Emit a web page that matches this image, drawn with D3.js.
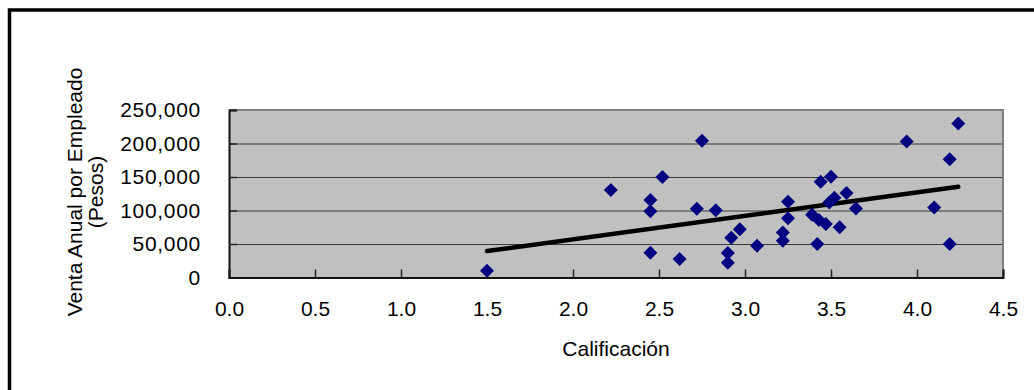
<!DOCTYPE html>
<html>
<head>
<meta charset="utf-8">
<script src="https://cdn.jsdelivr.net/npm/d3@7"></script>
<style>
  body { margin: 0; background: #fff; }
  text { font-family: "Liberation Sans", Arial, sans-serif; fill: #000; }
</style>
</head>
<body>
<div id="chart"></div>
<script>
// Calificación (x) y venta anual por empleado (y)
const calificacion = [1.5, 2.22, 2.45, 2.45, 2.45, 2.52, 2.62, 2.72, 2.75, 2.83, 2.9, 2.9, 2.92, 2.97, 3.07,
    3.22, 3.22, 3.25, 3.25, 3.39, 3.42, 3.43, 3.44, 3.47, 3.49, 3.5, 3.52, 3.55, 3.59, 3.645,
    3.94, 4.1, 4.19, 4.19, 4.24];
const ventaAnual = [10000, 130500, 115500, 99000, 37000, 150000, 27500, 102500, 204000, 100500, 36500, 22000, 59500, 72000, 47500,
    67000, 55000, 113000, 88500, 93500, 50000, 86000, 143000, 80000, 112000, 150500, 119000, 75000, 126000, 103000,
    203000, 104500, 176500, 50000, 230000];
const xTicks = [0, 0.5, 1, 1.5, 2, 2.5, 3, 3.5, 4, 4.5];
const yTicks = [0, 50000, 100000, 150000, 200000, 250000];

const data = calificacion.map((c, i) => ({x: c, y: ventaAnual[i]}));

const W = 1034, H = 390;
const margin = {top: 110, right: 31, bottom: 112.5, left: 229};
const width = W - margin.left - margin.right;
const height = H - margin.top - margin.bottom;

const root = d3.select('#chart').append('svg')
    .attr('width', W)
    .attr('height', H);

// marco exterior
root.append('rect')
    .attr('x', 9.5).attr('y', 10)
    .attr('width', W + 20).attr('height', H + 20)
    .attr('fill', 'none')
    .attr('stroke', '#000')
    .attr('stroke-width', 3.5);

const svg = root.append('g')
    .attr('transform', `translate(${margin.left},${margin.top})`);

const x = d3.scaleLinear().domain([0, 4.5]).range([0, width]);
const y = d3.scaleLinear().domain([0, 250000]).range([height, 0]);

// area de trazado
svg.append('rect')
    .attr('width', width)
    .attr('height', height)
    .attr('fill', '#c0c0c0');

// lineas de division
svg.append('g')
    .call(d3.axisLeft(y).tickValues(yTicks.slice(1, -1)).tickSize(-width).tickFormat(''))
    .call(g => g.select('.domain').remove())
    .call(g => g.selectAll('line').attr('stroke', '#3a3a3a').attr('stroke-width', 1.2));

// borde gris arriba y derecha
svg.append('path')
    .attr('d', `M0,0H${width}V${height}`)
    .attr('fill', 'none')
    .attr('stroke', '#808080')
    .attr('stroke-width', 2);

const yAxis = svg.append('g')
    .call(d3.axisLeft(y).tickValues(yTicks).tickSize(-8).tickPadding(28).tickFormat(d3.format(',')));

const xAxis = svg.append('g')
    .attr('transform', `translate(0,${height})`)
    .call(d3.axisBottom(x).tickValues(xTicks).tickSize(-8).tickPadding(24).tickFormat(d3.format('.1f')));

[yAxis, xAxis].forEach(g => {
    g.select('.domain').attr('stroke', '#111').attr('stroke-width', 2);
    g.selectAll('.tick line').attr('stroke', '#222').attr('stroke-width', 1.5);
    g.selectAll('.tick text')
        .attr('fill', '#000')
        .style('font-size', '21px')
        .style('font-family', '"Liberation Sans", Arial, sans-serif');
});
yAxis.selectAll('.tick text').style('letter-spacing', '0.7px');

// linea de tendencia (minimos cuadrados)
const n = data.length;
const mx = d3.mean(data, d => d.x);
const my = d3.mean(data, d => d.y);
const slope = d3.sum(data, d => (d.x - mx) * (d.y - my)) / d3.sum(data, d => (d.x - mx) ** 2);
const intercept = my - slope * mx;
const [x1, x2] = d3.extent(data, d => d.x);

svg.append('line')
    .attr('x1', x(x1))
    .attr('y1', y(slope * x1 + intercept))
    .attr('x2', x(x2))
    .attr('y2', y(slope * x2 + intercept))
    .attr('stroke', '#000')
    .attr('stroke-width', 4.5)
    .attr('stroke-linecap', 'round');

// puntos (rombos)
svg.selectAll('.dot')
    .data(data)
    .enter()
    .append('path')
    .attr('class', 'dot')
    .attr('transform', d => `translate(${x(d.x)},${y(d.y)})`)
    .attr('d', 'M0,-7L7,0L0,7L-7,0Z')
    .attr('fill', '#000080');

// titulos
svg.append('text')
    .attr('text-anchor', 'middle')
    .attr('x', width / 2)
    .attr('y', height + 78.5)
    .style('font-size', '21px')
    .text('Calificación');

const yTitle = root.append('text')
    .attr('text-anchor', 'middle')
    .attr('transform', 'translate(82,192) rotate(-90)')
    .style('font-size', '21px');
yTitle.append('tspan').attr('x', 0).attr('y', 0).text('Venta Anual por Empleado');
yTitle.append('tspan').attr('x', 0).attr('y', 21).text('(Pesos)');
</script>
</body>
</html>
